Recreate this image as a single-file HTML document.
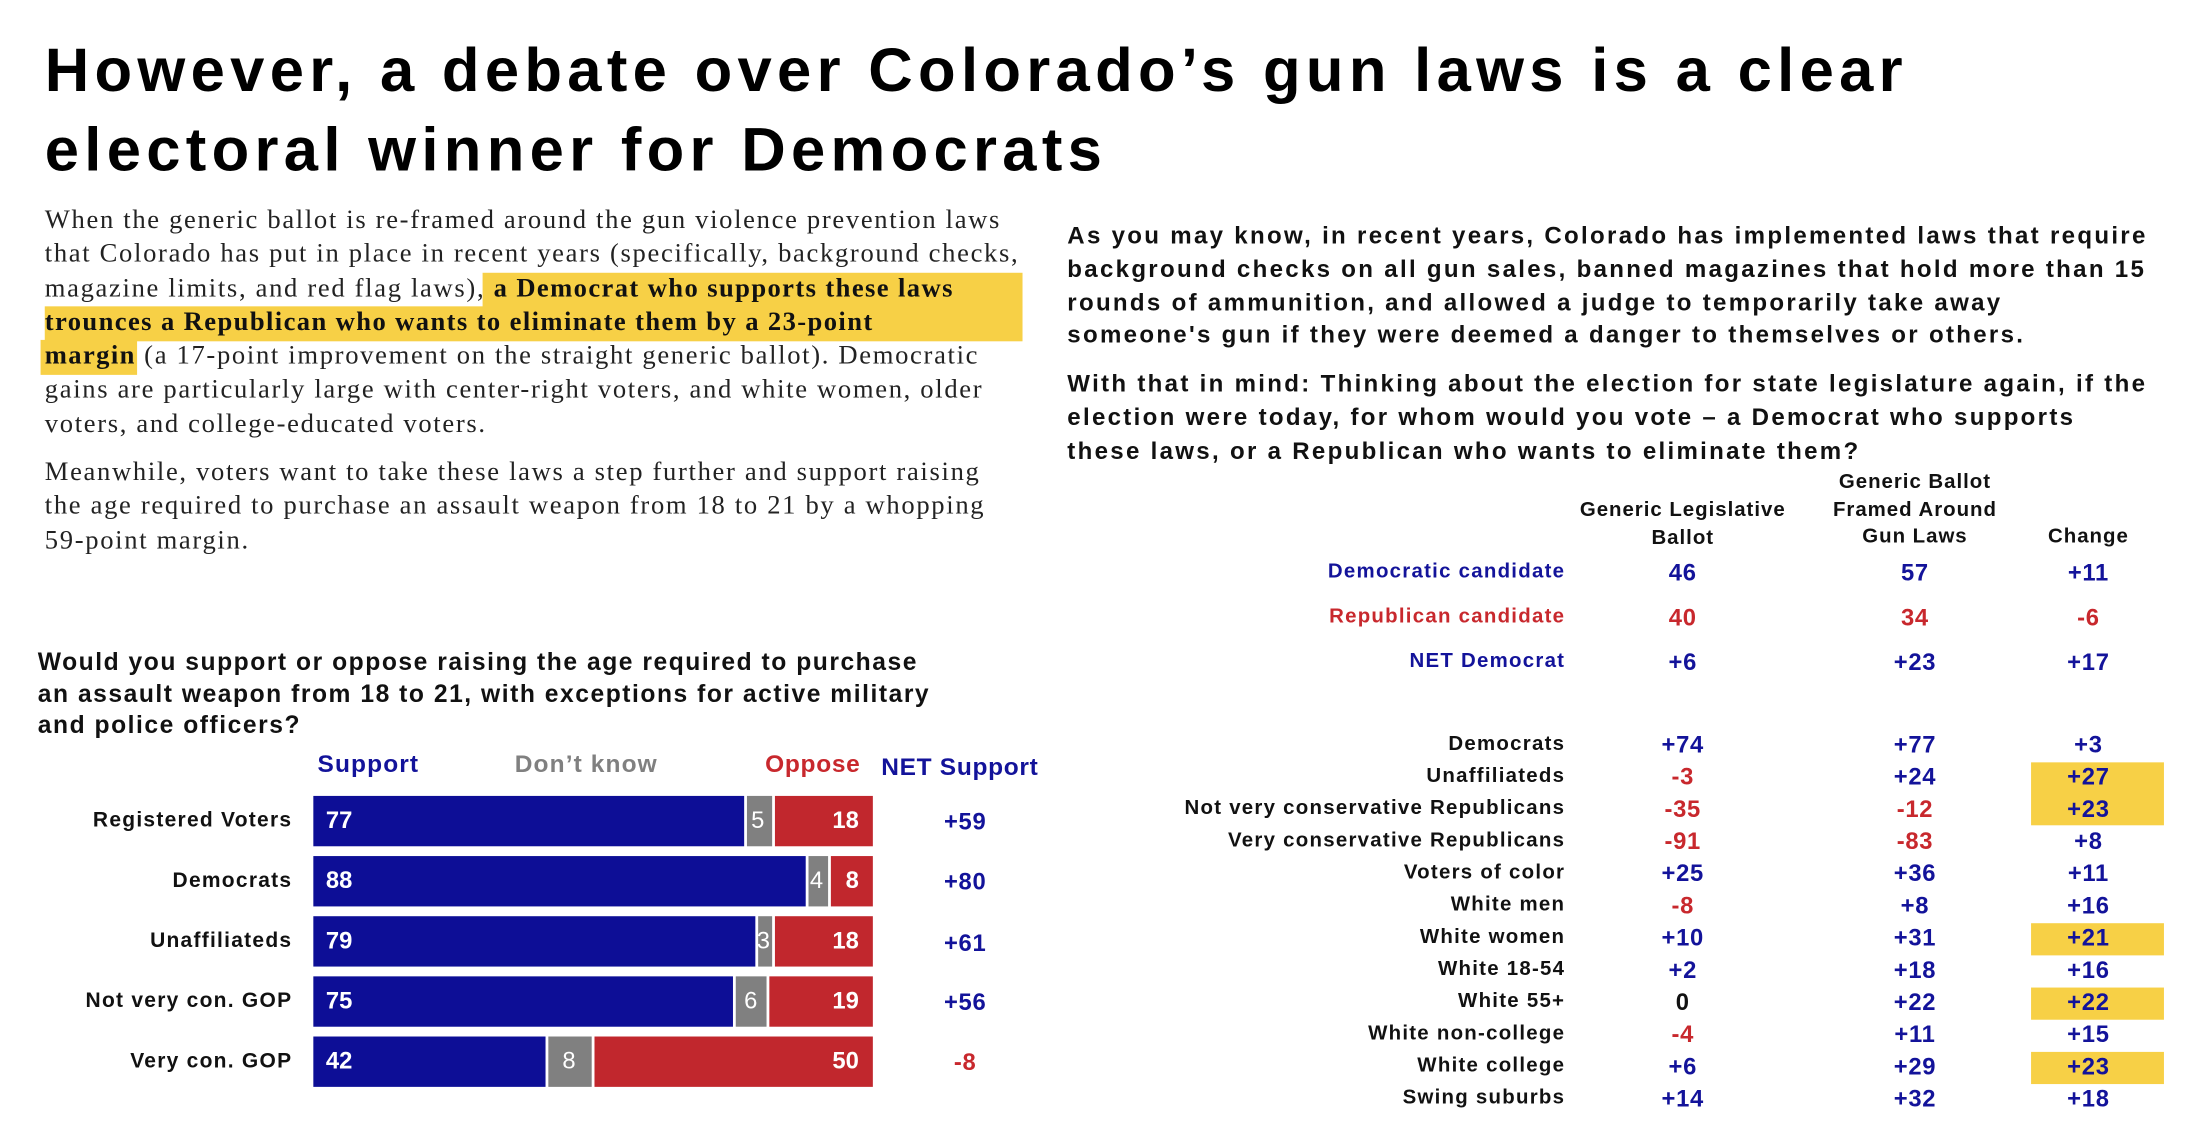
<!DOCTYPE html>
<html><head><meta charset="utf-8"><style>
html,body{margin:0;padding:0;background:#fff;width:2192px;height:1136px;overflow:hidden}
#w{position:absolute;left:0;top:0;width:1567px;height:812px;transform:scale(1.3988);transform-origin:0 0;font-family:"Liberation Sans",sans-serif}
.a{position:absolute;white-space:nowrap}
h1{position:absolute;left:32px;top:22px;margin:0;font:bold 44px/57px "Liberation Sans",sans-serif;color:#000;letter-spacing:3.8px;white-space:nowrap}
.p{position:absolute;left:32px;font:19px/24.3px "Liberation Serif",serif;color:#222;letter-spacing:1.2px;white-space:nowrap}
.hl{font-weight:bold;color:#111;letter-spacing:1.0px}
.q{position:absolute;left:763px;font:bold 17.2px/23.8px "Liberation Sans",sans-serif;color:#111;letter-spacing:1.65px;white-space:nowrap}
.lb{position:absolute;right:448px;text-align:right;font:bold 14.6px "Liberation Sans",sans-serif;color:#111;white-space:nowrap;letter-spacing:0.9px}
.v{position:absolute;width:80px;text-align:center;font:bold 17px "Liberation Sans",sans-serif;letter-spacing:0.5px}
.b{color:#13139a}.r{color:#c8282d}.k{color:#111}
.y{position:absolute;left:1452px;width:95px;background:#f7d046}
.bar{position:absolute;height:36px;left:224px;width:400px}
.s{position:absolute;top:0;height:36px}
.bl{background:#0d0e96}.gr{background:#808080}.rd{background:#c1272d}
.n{position:absolute;top:8px;font:bold 17px "Liberation Sans",sans-serif;color:#fff}
.rl{position:absolute;right:1358px;font:bold 15px "Liberation Sans",sans-serif;color:#111;white-space:nowrap;letter-spacing:0.9px}
.hd{position:absolute;text-align:center;font:bold 14.6px/19.5px 'Liberation Sans',sans-serif;color:#111;letter-spacing:0.7px;white-space:nowrap}
</style></head><body><div id="w">
<div style="position:absolute;left:345px;top:195px;width:386px;height:25px;background:#f7d046"></div>
<div style="position:absolute;left:32px;top:219px;width:699px;height:25px;background:#f7d046"></div>
<div style="position:absolute;left:29px;top:243px;width:69px;height:25px;background:#f7d046"></div>
<h1>However, a debate over Colorado’s gun laws is a clear<br>electoral winner for Democrats</h1>
<div class="p" style="top:146px">When the generic ballot is re-framed around the gun violence prevention laws<br>that Colorado has put in place in recent years (specifically, background checks,<br>magazine limits, and red flag laws), <span class="hl">a Democrat who supports these laws</span><br><span class="hl">trounces a Republican who wants to eliminate them by a 23-point</span><br><span class="hl">margin</span> (a 17-point improvement on the straight generic ballot). Democratic<br>gains are particularly large with center-right voters, and white women, older<br>voters, and college-educated voters.</div>
<div class="p" style="top:326px">Meanwhile, voters want to take these laws a step further and support raising<br>the age required to purchase an assault weapon from 18 to 21 by a whopping<br>59-point margin.</div>

<div class="q" style="top:157px">As you may know, in recent years, Colorado has implemented laws that require<br>background checks on all gun sales, banned magazines that hold more than 15<br>rounds of ammunition, and allowed a judge to temporarily take away<br>someone's gun if they were deemed a danger to themselves or others.</div>
<div class="q" style="top:263px">With that in mind: Thinking about the election for state legislature again, if the<br>election were today, for whom would you vote – a Democrat who supports<br>these laws, or a Republican who wants to eliminate them?</div>

<div class="hd" style="left:1103px;width:200px;top:356px">Generic Legislative<br>Ballot</div>
<div class="hd" style="left:1269px;width:200px;top:336px">Generic Ballot<br>Framed Around<br>Gun Laws</div>
<div class="hd" style="left:1443px;width:100px;top:375px">Change</div>

<div class="lb b" style="top:401px">Democratic candidate</div>
<div class="lb r" style="top:433px">Republican candidate</div>
<div class="lb b" style="top:465px">NET Democrat</div>
<div class="v b" style="left:1163px;top:400px">46</div><div class="v b" style="left:1329px;top:400px">57</div><div class="v b" style="left:1453px;top:400px">+11</div>
<div class="v r" style="left:1163px;top:432px">40</div><div class="v r" style="left:1329px;top:432px">34</div><div class="v r" style="left:1453px;top:432px">-6</div>
<div class="v b" style="left:1163px;top:464px">+6</div><div class="v b" style="left:1329px;top:464px">+23</div><div class="v b" style="left:1453px;top:464px">+17</div>

<div class="y" style="top:545px;height:45px"></div>
<div class="y" style="top:660px;height:23px"></div>
<div class="y" style="top:706px;height:23px"></div>
<div class="y" style="top:752px;height:23px"></div>

<div class="lb" style="top:524px">Democrats</div><div class="v b" style="left:1163px;top:523px">+74</div><div class="v b" style="left:1329px;top:523px">+77</div><div class="v b" style="left:1453px;top:523px">+3</div>
<div class="lb" style="top:547px">Unaffiliateds</div><div class="v r" style="left:1163px;top:546px">-3</div><div class="v b" style="left:1329px;top:546px">+24</div><div class="v b" style="left:1453px;top:546px">+27</div>
<div class="lb" style="top:570px">Not very conservative Republicans</div><div class="v r" style="left:1163px;top:569px">-35</div><div class="v r" style="left:1329px;top:569px">-12</div><div class="v b" style="left:1453px;top:569px">+23</div>
<div class="lb" style="top:593px">Very conservative Republicans</div><div class="v r" style="left:1163px;top:592px">-91</div><div class="v r" style="left:1329px;top:592px">-83</div><div class="v b" style="left:1453px;top:592px">+8</div>
<div class="lb" style="top:616px">Voters of color</div><div class="v b" style="left:1163px;top:615px">+25</div><div class="v b" style="left:1329px;top:615px">+36</div><div class="v b" style="left:1453px;top:615px">+11</div>
<div class="lb" style="top:639px">White men</div><div class="v r" style="left:1163px;top:638px">-8</div><div class="v b" style="left:1329px;top:638px">+8</div><div class="v b" style="left:1453px;top:638px">+16</div>
<div class="lb" style="top:662px">White women</div><div class="v b" style="left:1163px;top:661px">+10</div><div class="v b" style="left:1329px;top:661px">+31</div><div class="v b" style="left:1453px;top:661px">+21</div>
<div class="lb" style="top:685px">White 18-54</div><div class="v b" style="left:1163px;top:684px">+2</div><div class="v b" style="left:1329px;top:684px">+18</div><div class="v b" style="left:1453px;top:684px">+16</div>
<div class="lb" style="top:708px">White 55+</div><div class="v k" style="left:1163px;top:707px">0</div><div class="v b" style="left:1329px;top:707px">+22</div><div class="v b" style="left:1453px;top:707px">+22</div>
<div class="lb" style="top:731px">White non-college</div><div class="v r" style="left:1163px;top:730px">-4</div><div class="v b" style="left:1329px;top:730px">+11</div><div class="v b" style="left:1453px;top:730px">+15</div>
<div class="lb" style="top:754px">White college</div><div class="v b" style="left:1163px;top:753px">+6</div><div class="v b" style="left:1329px;top:753px">+29</div><div class="v b" style="left:1453px;top:753px">+23</div>
<div class="lb" style="top:777px">Swing suburbs</div><div class="v b" style="left:1163px;top:776px">+14</div><div class="v b" style="left:1329px;top:776px">+32</div><div class="v b" style="left:1453px;top:776px">+18</div>

<div class="a" style="left:27px;top:462px;font:bold 17.6px/22.5px 'Liberation Sans',sans-serif;color:#111;letter-spacing:1.1px">Would you support or oppose raising the age required to purchase<br>an assault weapon from 18 to 21, with exceptions for active military<br>and police officers?</div>
<div class="a" style="left:227px;top:536px;font:bold 17.5px 'Liberation Sans',sans-serif;color:#13139a;letter-spacing:0.8px">Support</div>
<div class="a" style="left:368px;top:536px;font:bold 17.5px 'Liberation Sans',sans-serif;color:#808080;letter-spacing:0.8px">Don’t know</div>
<div class="a" style="left:547px;top:536px;font:bold 17.5px 'Liberation Sans',sans-serif;color:#c8282d;letter-spacing:0.5px">Oppose</div>
<div class="a" style="left:630px;top:538px;font:bold 17.5px 'Liberation Sans',sans-serif;color:#13139a;letter-spacing:0.5px">NET Support</div>

<div class="rl" style="top:578px">Registered Voters</div>
<div class="bar" style="top:569px"><div class="s bl" style="left:0;width:308px"></div><div class="s gr" style="left:310px;width:18px"></div><div class="s rd" style="left:330px;width:70px"></div><div class="n" style="left:9px">77</div><div class="n" style="left:313px;font-weight:normal">5</div><div class="n" style="right:10px">18</div></div>
<div class="rl" style="top:621px">Democrats</div>
<div class="bar" style="top:612px"><div class="s bl" style="left:0;width:352px"></div><div class="s gr" style="left:354px;width:14px"></div><div class="s rd" style="left:370px;width:30px"></div><div class="n" style="left:9px">88</div><div class="n" style="left:355px;font-weight:normal">4</div><div class="n" style="right:10px">8</div></div>
<div class="rl" style="top:664px">Unaffiliateds</div>
<div class="bar" style="top:655px"><div class="s bl" style="left:0;width:316px"></div><div class="s gr" style="left:318px;width:10px"></div><div class="s rd" style="left:330px;width:70px"></div><div class="n" style="left:9px">79</div><div class="n" style="left:317px;font-weight:normal">3</div><div class="n" style="right:10px">18</div></div>
<div class="rl" style="top:707px">Not very con. GOP</div>
<div class="bar" style="top:698px"><div class="s bl" style="left:0;width:300px"></div><div class="s gr" style="left:302px;width:22px"></div><div class="s rd" style="left:326px;width:74px"></div><div class="n" style="left:9px">75</div><div class="n" style="left:308px;font-weight:normal">6</div><div class="n" style="right:10px">19</div></div>
<div class="rl" style="top:750px">Very con. GOP</div>
<div class="bar" style="top:741px"><div class="s bl" style="left:0;width:166px"></div><div class="s gr" style="left:168px;width:31px"></div><div class="s rd" style="left:201px;width:199px"></div><div class="n" style="left:9px">42</div><div class="n" style="left:178px;font-weight:normal">8</div><div class="n" style="right:10px">50</div></div>

<div class="v b" style="left:650px;top:578px">+59</div>
<div class="v b" style="left:650px;top:621px">+80</div>
<div class="v b" style="left:650px;top:665px">+61</div>
<div class="v b" style="left:650px;top:707px">+56</div>
<div class="v r" style="left:650px;top:750px">-8</div>
</div></body></html>
